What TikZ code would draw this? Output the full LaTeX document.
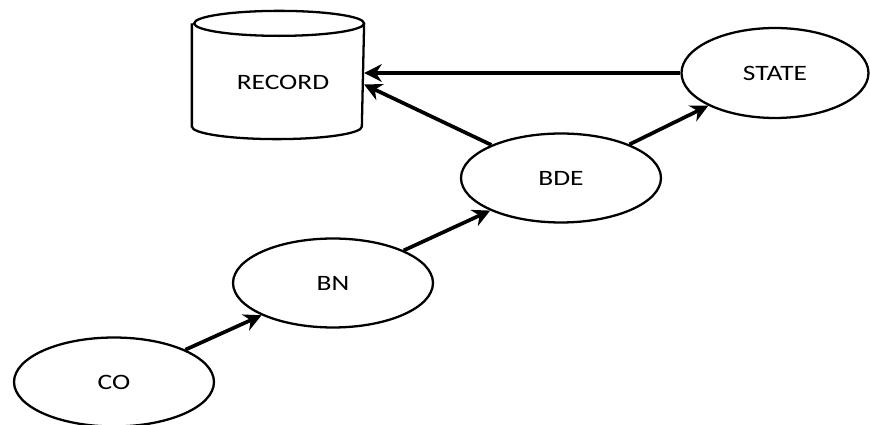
\documentclass[tikz,border=0pt]{standalone}
\usepackage{fontspec}
\setmainfont{Carlito}
\usepackage{tikz}
\tikzset{
every picture/.style={line width=1.3pt},
state/.style={ellipse, draw, minimum width=4cm, minimum height=1.78cm, inner sep=0pt},
link/.style={line width=2.1pt, -{Stealth[length=10pt, width=10pt]}}
}
\usetikzlibrary{shapes.geometric, arrows.meta}
\newcommand{\lbl}[1]{\scalebox{1.25}[1]{\fontsize{12.5}{15}\selectfont #1}}

\begin{document}
\begin{tikzpicture}[x=0.02cm, y=-0.02cm]
      \useasboundingbox (0,0) rectangle (870,425);
      \node[state] (co) at (114,382) {\lbl{CO}};
      \node[state] (bn) at (333,283) {\lbl{BN}};
      \node[state] (bde) at (561,178) {\lbl{BDE}};
      \node[state, minimum width=3.74cm, minimum height=1.8cm] (st) at (775,73) {\lbl{STATE}};
      \node[minimum width=3.4cm, minimum height=2.52cm, inner sep=0pt] (rec) at (278,75) {};
      \node at (283,82) {\lbl{RECORD}};
      \draw ([yshift=-0.25cm]rec.north west) -- ([yshift=0.25cm]rec.south west)
            arc (180:360:1.7cm and 0.25cm) -- ([yshift=-0.25cm]rec.north east)
            arc (0:360:1.7cm and 0.25cm);
      \draw[link] (co) -- (bn);
      \draw[link] (bn) -- (bde);
      \draw[link] (bde) -- (st);
      \draw[link] (bde) -- ([yshift=-0.19cm]rec.east);
      \draw[link] (st.west) -- (st.west -| rec.east);
    \end{tikzpicture}
\end{document}
